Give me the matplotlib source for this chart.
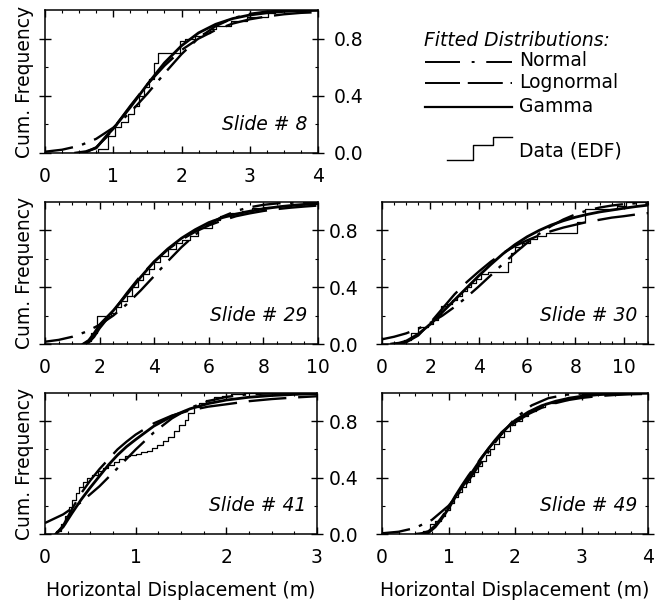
import matplotlib
matplotlib.use("Agg")
import matplotlib.pyplot as plt
from matplotlib.ticker import MultipleLocator, FixedLocator

plt.rcParams["font.family"] = ["DejaVu Sans"]
FS = 13.5

# ---- Slide # 8 -------------------------------------------------------------
s8_normal_x = [0, 0.25, 0.5, 0.75, 1.0, 1.25, 1.5, 1.75, 2.0, 2.25, 2.5, 2.75, 3.0, 3.25, 3.5, 3.75, 4.0]
s8_normal = [0.009, 0.023, 0.05, 0.099, 0.177, 0.284, 0.415, 0.556, 0.691, 0.804, 0.887, 0.942, 0.973, 0.989, 0.996, 0.999, 1.0]
s8_gamma_x = [0.45, 0.6, 0.75, 0.9, 1.0, 1.25, 1.5, 1.75, 2.0, 2.25, 2.5, 2.75, 3.0, 3.25, 3.5, 3.75, 4.0]
s8_gamma = [0.0, 0.01, 0.035, 0.12, 0.17, 0.32, 0.48, 0.63, 0.75, 0.84, 0.90, 0.94, 0.965, 0.98, 0.99, 0.995, 0.998]
s8_lognormal_x = [0.5, 0.6, 0.75, 0.9, 1.0, 1.25, 1.5, 1.75, 2.0, 2.25, 2.5, 2.75, 3.0, 3.25, 3.5, 3.75, 4.0]
s8_lognormal = [0.0, 0.005, 0.04, 0.11, 0.17, 0.33, 0.48, 0.61, 0.72, 0.80, 0.86, 0.905, 0.935, 0.955, 0.97, 0.98, 0.985]
s8_edf_x = [0.0, 0.78, 0.92, 1.02, 1.12, 1.22, 1.30, 1.38, 1.45, 1.52, 1.60, 1.66, 1.98, 2.05, 2.2, 2.32, 2.42, 2.50, 2.72, 2.96, 3.27, 3.37, 4.0]
s8_edf_y = [0.0, 0.03, 0.12, 0.18, 0.22, 0.27, 0.33, 0.40, 0.46, 0.52, 0.63, 0.70, 0.78, 0.80, 0.82, 0.84, 0.87, 0.89, 0.92, 0.95, 0.98, 1.0, 1.0]

# ---- Slide # 29 ------------------------------------------------------------
s29_normal_x = [0, 0.5, 1.0, 1.5, 2.0, 2.5, 3.0, 3.5, 4.0, 4.5, 5.0, 5.5, 6.0, 6.5, 7.0, 7.5, 8.0, 8.5, 9.0, 9.5, 10.0]
s29_normal = [0.016, 0.029, 0.051, 0.086, 0.135, 0.200, 0.281, 0.376, 0.479, 0.583, 0.682, 0.769, 0.841, 0.897, 0.937, 0.963, 0.980, 0.990, 0.995, 0.998, 0.999]
s29_gamma_x = [1.4, 1.6, 1.8, 2.0, 2.5, 3.0, 3.5, 4.0, 4.5, 5.0, 5.5, 6.0, 6.5, 7.0, 7.5, 8.0, 8.5, 9.0, 9.5, 10.0]
s29_gamma = [0.0, 0.025, 0.075, 0.135, 0.235, 0.35, 0.47, 0.58, 0.67, 0.745, 0.805, 0.855, 0.89, 0.915, 0.935, 0.952, 0.965, 0.975, 0.983, 0.988]
s29_lognormal_x = [1.4, 1.6, 1.8, 2.0, 2.5, 3.0, 3.5, 4.0, 4.5, 5.0, 5.5, 6.0, 6.5, 7.0, 7.5, 8.0, 8.5, 9.0, 9.5, 10.0]
s29_lognormal = [0.0, 0.01, 0.05, 0.11, 0.23, 0.36, 0.48, 0.58, 0.665, 0.735, 0.79, 0.835, 0.87, 0.90, 0.92, 0.937, 0.95, 0.96, 0.968, 0.975]
s29_edf_x = [0.0, 1.5, 1.7, 1.9, 2.4, 2.6, 2.8, 3.0, 3.2, 3.4, 3.6, 3.8, 4.0, 4.2, 4.5, 4.8, 5.0, 5.3, 5.6, 6.1, 6.4, 6.8, 7.2, 7.6, 8.0, 8.5, 9.0, 9.5, 10.0]
s29_edf_y = [0.0, 0.02, 0.08, 0.20, 0.22, 0.26, 0.30, 0.34, 0.40, 0.45, 0.49, 0.53, 0.58, 0.62, 0.67, 0.71, 0.73, 0.76, 0.82, 0.87, 0.90, 0.92, 0.94, 0.955, 0.965, 0.975, 0.985, 0.99, 1.0]

# ---- Slide # 30 ------------------------------------------------------------
s30_normal_x = [0, 0.5, 1.0, 1.5, 2.0, 2.5, 3.0, 3.5, 4.0, 4.5, 5.0, 5.5, 6.0, 6.5, 7.0, 7.5, 8.0, 8.5, 9.0, 9.5, 10.0, 10.5, 11.0]
s30_normal = [0.033, 0.051, 0.075, 0.108, 0.149, 0.200, 0.261, 0.330, 0.405, 0.484, 0.564, 0.641, 0.712, 0.776, 0.831, 0.877, 0.913, 0.941, 0.961, 0.975, 0.985, 0.991, 0.995]
s30_gamma_x = [0.4, 0.7, 1.0, 1.5, 2.0, 2.5, 3.0, 3.5, 4.0, 4.5, 5.0, 5.5, 6.0, 6.5, 7.0, 7.5, 8.0, 8.5, 9.0, 9.5, 10.0, 10.5, 11.0]
s30_gamma = [0.0, 0.006, 0.02, 0.07, 0.14, 0.225, 0.31, 0.395, 0.48, 0.56, 0.635, 0.70, 0.755, 0.80, 0.838, 0.868, 0.893, 0.913, 0.93, 0.943, 0.956, 0.968, 0.978]
s30_lognormal_x = [0.4, 0.7, 1.0, 1.5, 2.0, 2.5, 3.0, 3.5, 4.0, 4.5, 5.0, 5.5, 6.0, 6.5, 7.0, 7.5, 8.0, 8.5, 9.0, 9.5, 10.0, 10.5, 11.0]
s30_lognormal = [0.0, 0.002, 0.012, 0.06, 0.15, 0.25, 0.35, 0.435, 0.51, 0.58, 0.64, 0.69, 0.73, 0.765, 0.795, 0.82, 0.84, 0.86, 0.875, 0.89, 0.90, 0.912, 0.922]
s30_edf_x = [0.0, 0.9, 1.2, 1.5, 1.9, 2.1, 2.3, 2.45, 2.7, 2.9, 3.1, 3.3, 3.5, 3.7, 3.9, 4.1, 4.37, 5.2, 5.35, 5.5, 5.8, 6.1, 6.4, 6.77, 8.07, 8.4, 9.7, 10.1, 11.0]
s30_edf_y = [0.0, 0.03, 0.08, 0.12, 0.14, 0.17, 0.20, 0.27, 0.28, 0.31, 0.34, 0.37, 0.40, 0.43, 0.46, 0.49, 0.51, 0.58, 0.64, 0.68, 0.71, 0.74, 0.76, 0.78, 0.86, 0.95, 0.97, 1.0, 1.0]

# ---- Slide # 41 ------------------------------------------------------------
s41_normal_x = [0, 0.2, 0.4, 0.6, 0.8, 1.0, 1.2, 1.4, 1.6, 1.8, 2.0, 2.2, 2.4, 2.6, 2.8, 3.0]
s41_normal = [0.078, 0.139, 0.227, 0.338, 0.467, 0.599, 0.720, 0.820, 0.894, 0.943, 0.972, 0.988, 0.995, 0.998, 0.999, 1.0]
s41_gamma_x = [0.12, 0.2, 0.3, 0.4, 0.5, 0.6, 0.7, 0.8, 0.9, 1.0, 1.2, 1.4, 1.6, 1.8, 2.0, 2.25, 2.5, 2.75, 3.0]
s41_gamma = [0.0, 0.05, 0.15, 0.245, 0.33, 0.41, 0.49, 0.56, 0.62, 0.67, 0.765, 0.835, 0.888, 0.925, 0.95, 0.97, 0.982, 0.99, 0.995]
s41_lognormal_x = [0.12, 0.2, 0.3, 0.4, 0.5, 0.6, 0.7, 0.8, 0.9, 1.0, 1.2, 1.4, 1.6, 1.8, 2.0, 2.25, 2.5, 2.75, 3.0]
s41_lognormal = [0.0, 0.06, 0.18, 0.29, 0.38, 0.46, 0.53, 0.60, 0.655, 0.705, 0.785, 0.84, 0.877, 0.903, 0.92, 0.942, 0.957, 0.968, 0.977]
s41_edf_x = [0.0, 0.12, 0.18, 0.22, 0.26, 0.30, 0.34, 0.38, 0.42, 0.46, 0.52, 0.58, 0.64, 0.70, 0.76, 0.82, 0.88, 0.94, 1.00, 1.06, 1.12, 1.18, 1.24, 1.30, 1.36, 1.42, 1.48, 1.54, 1.58, 1.64, 1.70, 1.78, 1.86, 1.95, 2.05, 2.2, 3.0]
s41_edf_y = [0.0, 0.02, 0.07, 0.13, 0.19, 0.24, 0.29, 0.33, 0.37, 0.40, 0.42, 0.45, 0.47, 0.49, 0.51, 0.53, 0.55, 0.56, 0.57, 0.58, 0.59, 0.61, 0.63, 0.66, 0.69, 0.73, 0.77, 0.81, 0.86, 0.90, 0.93, 0.95, 0.97, 0.98, 0.99, 1.0, 1.0]

# ---- Slide # 49 ------------------------------------------------------------
s49_normal_x = [0, 0.25, 0.5, 0.75, 1.0, 1.25, 1.5, 1.75, 2.0, 2.25, 2.5, 2.75, 3.0, 3.25, 3.5, 3.75, 4.0]
s49_normal = [0.005, 0.016, 0.043, 0.100, 0.200, 0.343, 0.514, 0.682, 0.819, 0.912, 0.963, 0.987, 0.996, 0.999, 1.0, 1.0, 1.0]
s49_gamma_x = [0.6, 0.7, 0.8, 0.9, 1.0, 1.1, 1.2, 1.3, 1.4, 1.5, 1.6, 1.7, 1.8, 2.0, 2.2, 2.4, 2.6, 2.8, 3.0, 3.25, 3.5, 3.75, 4.0]
s49_gamma = [0.0, 0.01, 0.05, 0.11, 0.18, 0.26, 0.33, 0.40, 0.47, 0.54, 0.605, 0.665, 0.72, 0.805, 0.865, 0.91, 0.94, 0.962, 0.977, 0.988, 0.994, 0.997, 0.999]
s49_lognormal_x = [0.5, 0.6, 0.7, 0.8, 0.9, 1.0, 1.1, 1.2, 1.3, 1.4, 1.5, 1.6, 1.7, 1.8, 2.0, 2.2, 2.4, 2.6, 2.8, 3.0, 3.25, 3.5, 3.75, 4.0]
s49_lognormal = [0.0, 0.005, 0.02, 0.06, 0.12, 0.19, 0.27, 0.345, 0.415, 0.48, 0.545, 0.605, 0.66, 0.71, 0.79, 0.85, 0.895, 0.927, 0.95, 0.965, 0.978, 0.986, 0.991, 0.994]
s49_edf_x = [0.0, 0.62, 0.72, 0.80, 0.88, 0.95, 1.02, 1.08, 1.14, 1.20, 1.26, 1.32, 1.38, 1.44, 1.50, 1.56, 1.62, 1.68, 1.76, 1.84, 1.92, 2.00, 2.10, 2.20, 2.32, 2.45, 2.60, 2.80, 3.00, 3.25, 4.0]
s49_edf_y = [0.0, 0.02, 0.07, 0.09, 0.13, 0.17, 0.22, 0.26, 0.30, 0.33, 0.37, 0.41, 0.44, 0.48, 0.52, 0.56, 0.60, 0.64, 0.69, 0.73, 0.77, 0.80, 0.84, 0.87, 0.90, 0.93, 0.95, 0.97, 0.99, 1.0, 1.0]

NORMAL_DASH = (12, 4, 1.5, 4)
LOGN_DASH = (16, 5)
W, H = 662, 606


def panel(rect_px, xmax, xmajor, xminor, label, curves, edf,
          ylabels="none", ylabel=False, xlabel=False):
    x0, y0, x1, y1 = rect_px
    ax = fig.add_axes([x0 / W, 1 - y1 / H, (x1 - x0) / W, (y1 - y0) / H])
    (nx, ny), (gx, gy), (lx, ly) = curves
    ax.step(edf[0], edf[1], where="post", color="black", lw=0.9)
    ax.plot(nx, ny, color="black", lw=1.7, dashes=NORMAL_DASH)
    ax.plot(lx, ly, color="black", lw=1.7, dashes=LOGN_DASH)
    ax.plot(gx, gy, color="black", lw=2.0)
    ax.set_xlim(0, xmax)
    ax.set_ylim(0, 1.0)
    ax.xaxis.set_major_locator(MultipleLocator(xmajor))
    ax.xaxis.set_minor_locator(MultipleLocator(xminor))
    ax.yaxis.set_major_locator(FixedLocator([0.0, 0.4, 0.8]))
    ax.yaxis.set_minor_locator(FixedLocator([0.2, 0.6]))
    ax.yaxis.set_major_formatter(plt.FormatStrFormatter("%.1f"))
    ax.tick_params(axis="x", which="major", direction="in", length=5, width=1,
                   top=True, labelsize=FS, pad=10)
    ax.tick_params(axis="x", which="minor", direction="in", length=2.5, width=0.8, top=True)
    ax.tick_params(axis="y", which="major", direction="inout", length=8, width=1,
                   left=True, right=True, labelsize=FS,
                   labelleft=(ylabels == "left"), labelright=(ylabels == "right"),
                   pad=(13 if ylabels == "left" else 7))
    ax.tick_params(axis="y", which="minor", direction="in", length=2.5, width=0.8,
                   left=True, right=True)
    for s in ax.spines.values():
        s.set_linewidth(1.1)
    ax.text(0.96, 0.2, label, transform=ax.transAxes, ha="right", va="center",
            fontsize=FS, style="italic")
    if ylabel:
        ax.set_ylabel("Cum. Frequency", fontsize=FS)
        ax.yaxis.set_label_coords(-0.042, 0.5)
    if xlabel:
        ax.set_xlabel("Horizontal Displacement (m)", fontsize=FS)
        ax.xaxis.set_label_coords(0.5, -0.33)
    return ax


fig = plt.figure(figsize=(W / 100, H / 100), dpi=100)

panel((45, 10, 318, 153), 4, 1, 0.25, "Slide # 8",
      [(s8_normal_x, s8_normal), (s8_gamma_x, s8_gamma), (s8_lognormal_x, s8_lognormal)],
      (s8_edf_x, s8_edf_y), ylabels="right", ylabel=True)
panel((45, 202, 318, 344), 10, 2, 0.5, "Slide # 29",
      [(s29_normal_x, s29_normal), (s29_gamma_x, s29_gamma), (s29_lognormal_x, s29_lognormal)],
      (s29_edf_x, s29_edf_y), ylabel=True)
panel((382, 202, 648, 344), 11, 2, 0.5, "Slide # 30",
      [(s30_normal_x, s30_normal), (s30_gamma_x, s30_gamma), (s30_lognormal_x, s30_lognormal)],
      (s30_edf_x, s30_edf_y), ylabels="left")
panel((45, 393, 317, 534), 3, 1, 0.25, "Slide # 41",
      [(s41_normal_x, s41_normal), (s41_gamma_x, s41_gamma), (s41_lognormal_x, s41_lognormal)],
      (s41_edf_x, s41_edf_y), ylabel=True, xlabel=True)
panel((382, 393, 648, 534), 4, 1, 0.25, "Slide # 49",
      [(s49_normal_x, s49_normal), (s49_gamma_x, s49_gamma), (s49_lognormal_x, s49_lognormal)],
      (s49_edf_x, s49_edf_y), ylabels="left", xlabel=True)

# legend drawn in pixel space on an overlay
leg = fig.add_axes([0, 0, 1, 1])
leg.set_xlim(0, W)
leg.set_ylim(H, 0)
leg.axis("off")
leg.text(424, 40, "Fitted Distributions:", fontsize=FS, style="italic", va="center", ha="left")
leg.plot([425, 512], [62, 62], color="black", lw=1.4, dashes=(18, 6, 1.5, 6))
leg.text(519, 60, "Normal", fontsize=FS, va="center")
leg.plot([425, 512], [83, 83], color="black", lw=1.4, dashes=(18, 4))
leg.text(519, 82, "Lognormal", fontsize=FS, va="center")
leg.plot([425, 512], [107, 107], color="black", lw=1.6)
leg.text(519, 107, "Gamma", fontsize=FS, va="center")
leg.plot([447, 473, 473, 493, 493, 512], [160, 160, 145, 145, 137, 137], color="black", lw=1.0)
leg.text(519, 151, "Data (EDF)", fontsize=FS, va="center")

fig.savefig("out.png", dpi=100)
